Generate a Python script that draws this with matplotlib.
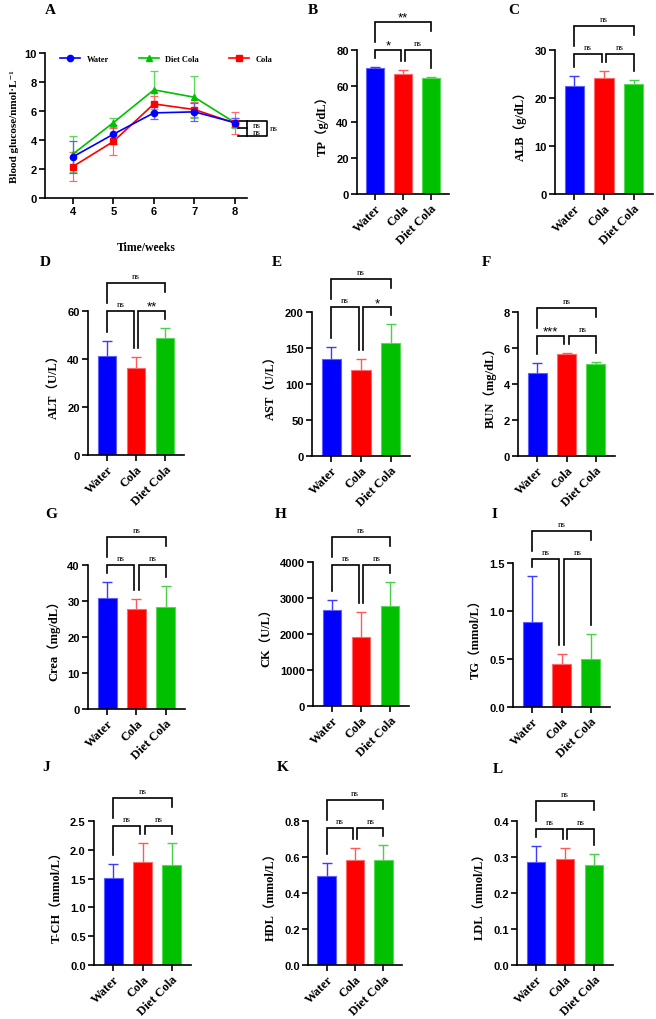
import numpy as np
import matplotlib.pyplot as plt

# =========================
# DATA
# =========================
groups = ["Water", "Cola", "Diet Cola"]

weeks = [4, 5, 6, 7, 8]
glu_water = [2.84, 4.40, 5.87, 5.94, 5.20]
glu_water_sd = [1.10, 0.65, 0.45, 0.60, 0.30]
glu_diet = [3.03, 5.20, 7.46, 6.95, 5.20]
glu_diet_sd = [1.27, 0.30, 1.30, 1.45, 0.35]
glu_cola = [2.17, 3.90, 6.49, 6.10, 5.17]
glu_cola_sd = [1.00, 0.95, 0.55, 0.50, 0.73]

tp = [69.9, 66.4, 64.7]
tp_sd = [0.9, 2.4, 0.4]
alb = [22.4, 24.1, 22.9]
alb_sd = [2.2, 1.6, 0.9]
alt = [41.3, 36.3, 48.6]
alt_sd = [6.3, 4.7, 4.5]
ast = [134.7, 119.5, 157.2]
ast_sd = [17.0, 15.2, 26.2]
bun = [4.60, 5.64, 5.09]
bun_sd = [0.58, 0.10, 0.13]
crea = [30.9, 27.8, 28.3]
crea_sd = [4.3, 2.8, 5.8]
ck = [2667, 1903, 2786]
ck_sd = [285, 699, 662]
tg = [0.890, 0.443, 0.495]
tg_sd = [0.475, 0.111, 0.264]
tch = [1.507, 1.796, 1.730]
tch_sd = [0.253, 0.324, 0.380]
hdl = [0.492, 0.584, 0.582]
hdl_sd = [0.075, 0.067, 0.085]
ldl = [0.286, 0.294, 0.279]
ldl_sd = [0.044, 0.030, 0.028]

# significance: Water-Cola, Cola-Diet, Water-Diet
sig_tp = ["*", "ns", "**"]
sig_alt = ["ns", "**", "ns"]
sig_ast = ["ns", "*", "ns"]
sig_bun = ["***", "ns", "ns"]
sig_ns = ["ns", "ns", "ns"]

# =========================
# STYLE
# =========================
W, H = 656, 1020
SERIF = ["Liberation Serif", "Noto Sans CJK SC", "DejaVu Serif"]
SANS = ["Liberation Sans", "DejaVu Sans"]
bar_colors = ["#0000FF", "#FF0000", "#00C000"]
edge_colors = ["#6060FF", "#FF6A6A", "#5AD85A"]
err_colors = ["#3C3CFF", "#FF5A5A", "#4CD04C"]
LW = 1.2

fig = plt.figure(figsize=(W / 100, H / 100), dpi=100)


def add_ax(left, top, width, height=144):
    return fig.add_axes([left / W, 1 - (top + height) / H, width / W, height / H])


def style_ax(ax):
    for s in ["top", "right"]:
        ax.spines[s].set_visible(False)
    for s in ["left", "bottom"]:
        ax.spines[s].set_linewidth(LW)
    ax.tick_params(direction="out", length=4, width=LW, pad=2)
    for lab in ax.get_yticklabels():
        lab.set_fontfamily(SANS)
        lab.set_fontweight("bold")
        lab.set_fontsize(8)


def letter(x, y, s):
    fig.text(x / W, 1 - y / H, s, family=SERIF, weight="bold", fontsize=11,
             ha="left", va="center")


def bracket(ax, x1, x2, y, yl, yr, label, ppx):
    ax.plot([x1, x1, x2, x2], [yl, y, y, yr], color="black", lw=LW,
            clip_on=False, solid_joinstyle="miter")
    if label == "ns":
        ax.text((x1 + x2) / 2, y + 5 * ppx, label, ha="center", va="baseline",
                family=SERIF, fontsize=6.5, clip_on=False)
    else:
        ax.text((x1 + x2) / 2, y + 1 * ppx, label, ha="center", va="baseline",
                family=SANS, fontsize=9.5, clip_on=False)


def bar_panel(ax, mean, sd, ytop, ystep, ylabel, sig, fmt=None):
    x = np.arange(len(groups))
    ax.bar(x, mean, width=0.65, color=bar_colors, edgecolor=edge_colors,
           linewidth=0.8, zorder=2)
    for i in range(len(groups)):
        eb = ax.errorbar(x[i], mean[i], yerr=[[0], [sd[i]]], fmt="none",
                         ecolor=err_colors[i], elinewidth=1.0, capsize=3.5,
                         capthick=1.0, zorder=3)
        eb.lines[1][0].set_visible(False)
    ax.set_xlim(-0.66, 2.66)
    ax.set_ylim(0, ytop)
    ticks = np.arange(0, ytop + ystep / 2, ystep)
    ax.set_yticks(ticks)
    if fmt:
        ax.set_yticklabels([fmt.format(t) for t in ticks])
    ax.set_xticks(x)
    ax.set_xticklabels(groups, rotation=45, ha="right", rotation_mode="anchor",
                       family=SERIF, weight="bold", fontsize=9)
    ax.set_ylabel(ylabel, family=SERIF, weight="bold", fontsize=9, labelpad=5)
    style_ax(ax)

    # significance brackets
    ppx = ytop / 144.0
    tops = [m + s for m, s in zip(mean, sd)]
    low = max(tops) + 17 * ppx
    high = low + 28 * ppx
    d = 0.08
    bracket(ax, 0, 1 - d, low, tops[0] + 9 * ppx, tops[1] + 9 * ppx, sig[0], ppx)
    bracket(ax, 1 + d, 2, low, tops[1] + 9 * ppx, tops[2] + 9 * ppx, sig[1], ppx)
    bracket(ax, 0, 2, high, low + 8 * ppx, high - 9 * ppx, sig[2], ppx)


# =========================
# PANEL A
# =========================
axA = add_ax(45, 54, 202, 145)
series = [
    ("Diet Cola", glu_diet, glu_diet_sd, "#00C000", "#5AD85A", "^"),
    ("Cola", glu_cola, glu_cola_sd, "#FF0000", "#FF6A6A", "s"),
    ("Water", glu_water, glu_water_sd, "#0000FF", "#6060FF", "o"),
]
handles = {}
for name, vals, sds, c, ec, mk in series:
    axA.errorbar(weeks, vals, yerr=sds, fmt="none", ecolor=ec, elinewidth=0.9,
                 capsize=3, capthick=0.9, zorder=2)
    (ln,) = axA.plot(weeks, vals, color=c, marker=mk, ms=4.5, lw=1.2, zorder=3)
    handles[name] = ln
axA.set_xlim(3.31, 8.3)
axA.set_ylim(0, 10)
axA.set_xticks(weeks)
axA.set_yticks([0, 2, 4, 6, 8, 10])
for lab in axA.get_xticklabels():
    lab.set_fontfamily(SANS)
    lab.set_fontweight("bold")
    lab.set_fontsize(8)
axA.set_xlabel("Time/weeks", family=SERIF, weight="bold", fontsize=8.5, labelpad=18)
axA.set_ylabel("Blood glucose/nmol·L⁻¹", family=SERIF, weight="bold",
               fontsize=8, labelpad=4)
style_ax(axA)
axA.legend([handles["Water"], handles["Diet Cola"], handles["Cola"]],
           ["Water", "Diet Cola", "Cola"], ncol=3, loc="upper center",
           bbox_to_anchor=(0.6, 1.04), frameon=False, handlelength=2.4,
           columnspacing=3.6, prop={"family": SERIF, "weight": "bold", "size": 6})

# right-side ns brackets of panel A
px_x = (8.3 - 3.31) / 202
xa, xb, xc = 8.08, 8.3, 8.79
y1, y2, y3 = 5.33, 4.80, 4.30
kw = dict(color="black", lw=LW, clip_on=False)
axA.plot([xa, xc, xc, xa], [y1, y1, y3, y3], **kw)
axA.plot([xa, xb], [y2, y2], **kw)
axA.plot([xb, xb], [y1, y3], **kw)
for yy in [(y1 + y2) / 2, (y2 + y3) / 2]:
    axA.text((xb + xc) / 2, yy, "ns", ha="center", va="center", family=SERIF,
             fontsize=6.5, clip_on=False)
axA.text(xc + 3 * px_x, (y1 + y3) / 2, "ns", ha="left", va="center",
         family=SERIF, fontsize=6.5, clip_on=False)

# =========================
# BAR PANELS
# =========================
bar_panel(add_ax(357, 51, 92), tp, tp_sd, 80, 20, "TP（g/dL）", sig_tp)
bar_panel(add_ax(555, 51, 98), alb, alb_sd, 30, 10, "ALB（g/dL）", sig_ns)
bar_panel(add_ax(88, 312, 96), alt, alt_sd, 60, 20, "ALT（U/L）", sig_alt)
bar_panel(add_ax(312, 313, 98), ast, ast_sd, 200, 50, "AST（U/L）", sig_ast)
bar_panel(add_ax(518, 313, 97), bun, bun_sd, 8, 2, "BUN（mg/dL）", sig_bun)
bar_panel(add_ax(88, 566, 97), crea, crea_sd, 40, 10, "Crea（mg/dL）", sig_ns)
bar_panel(add_ax(313, 563, 96), ck, ck_sd, 4000, 1000, "CK（U/L）", sig_ns)
bar_panel(add_ax(513, 564, 97), tg, tg_sd, 1.5, 0.5, "TG（mmol/L）", sig_ns, "{:.1f}")
bar_panel(add_ax(94, 822, 97), tch, tch_sd, 2.5, 0.5, "T-CH（mmol/L）", sig_ns, "{:.1f}")
bar_panel(add_ax(308, 822, 94), hdl, hdl_sd, 0.8, 0.2, "HDL（mmol/L）", sig_ns, "{:.1f}")
bar_panel(add_ax(517, 822, 96), ldl, ldl_sd, 0.4, 0.1, "LDL（mmol/L）", sig_ns, "{:.1f}")

# panel letters
for (x, y, s) in [(45, 11, "A"), (308, 11, "B"), (508, 11, "C"),
                  (40, 263, "D"), (272, 263, "E"), (482, 263, "F"),
                  (45, 515, "G"), (275, 515, "H"), (492, 515, "I"),
                  (42, 768, "J"), (277, 768, "K"), (493, 770, "L")]:
    letter(x, y, s)

fig.savefig("out.png", dpi=100)
